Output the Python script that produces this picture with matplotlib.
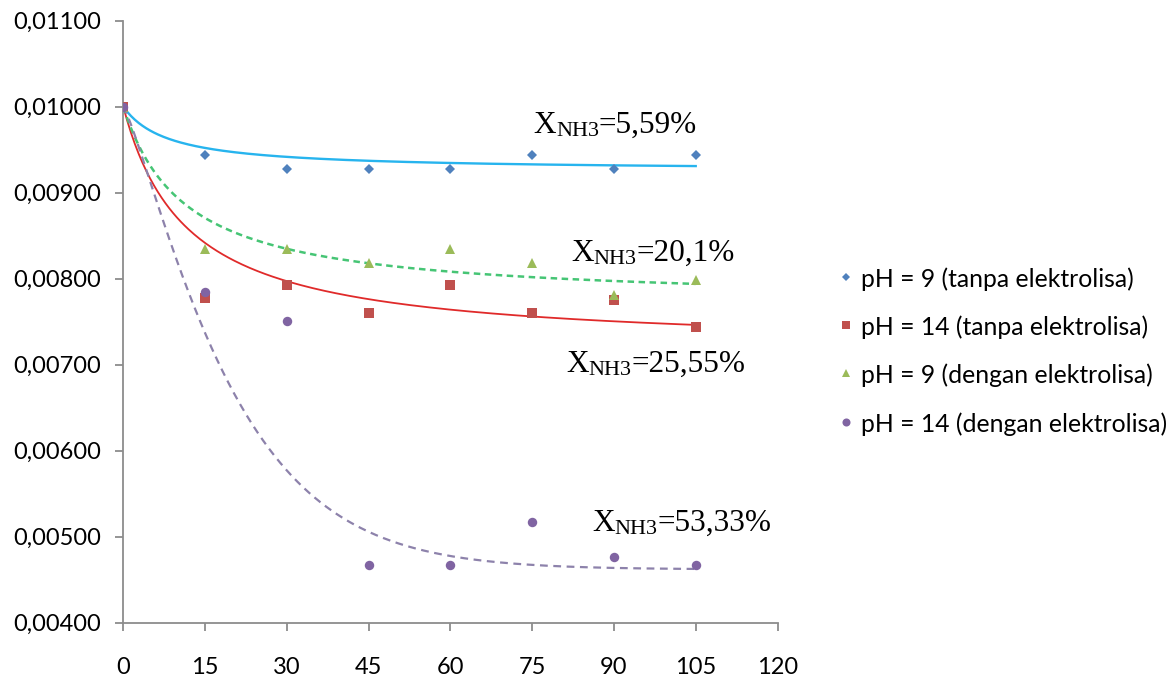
import numpy as np
import matplotlib
matplotlib.use("Agg")
import matplotlib.pyplot as plt
from matplotlib import transforms
from matplotlib.lines import Line2D

# ---------------- data ----------------
time_min = [0, 15, 30, 45, 60, 75, 90, 105]
ph9_tanpa = [0.01000, 0.00944, 0.00928, 0.00928, 0.00928, 0.00944, 0.00928, 0.00944]
ph14_tanpa = [0.01000, 0.00777, 0.00793, 0.00760, 0.00793, 0.00760, 0.00775, 0.00744]
ph9_dengan = [0.01000, 0.00835, 0.00835, 0.00818, 0.00835, 0.00818, 0.00781, 0.00799]
ph14_dengan = [0.01000, 0.00784, 0.00751, 0.00467, 0.00467, 0.00517, 0.00476, 0.00467]

labels = ["pH = 9 (tanpa elektrolisa)", "pH = 14 (tanpa elektrolisa)",
          "pH = 9 (dengan elektrolisa)", "pH = 14 (dengan elektrolisa)"]
conversions = ["5,59%", "20,1%", "25,55%", "53,33%"]
x_ticks = [0, 15, 30, 45, 60, 75, 90, 105, 120]
y_ticks = [0.004, 0.005, 0.006, 0.007, 0.008, 0.009, 0.010, 0.011]

# trendline parameters
# saturating trends: y = y0 - A*x/(K + x)
trend_A = [0.000745, 0.00282, 0.002286]
trend_K = [8.3, 11.7, 11.5]
# purple trend: y = c + (y0 - c)*exp(-(x/tau)^p)
purple_c, purple_tau, purple_p = 0.00462, 20.9, 1.2

# ---------------- figure ----------------
W, H = 1174, 677
fig = plt.figure(figsize=(W / 100, H / 100), dpi=100)
L, R, T, B = 123.3, 777.5, 20.7, 622.7
ax = fig.add_axes([L / W, 1 - B / H, (R - L) / W, (B - T) / H])

x = np.array(time_min, dtype=float)
series = [np.array(s) for s in (ph9_tanpa, ph14_tanpa, ph9_dengan, ph14_dengan)]
mcolors = ["#4F81BD", "#C0504D", "#9BBB59", "#8064A2"]
markers = ["D", "s", "^", "o"]
msizes = [5.0, 6.5, 7.2, 6.8]

xs = np.linspace(0, 105, 300)
trends = []
for s, A, K in zip(series[:3], trend_A, trend_K):
    trends.append(s[0] - A * xs / (K + xs))
y0p = series[3][0]
trends.append(purple_c + (y0p - purple_c) * np.exp(-(xs / purple_tau) ** purple_p))

ax.plot(xs, trends[0], color="#27B4EE", lw=1.7, zorder=2)
ax.plot(xs, trends[1], color="#E02A2A", lw=1.3, zorder=2)
ax.plot(xs, trends[2], color="#46C575", lw=1.8, ls=(0, (2.6, 1.8)), zorder=2)
ax.plot(xs, trends[3], color="#8D82AB", lw=1.6, ls=(0, (3.5, 2.5)), zorder=2)

for s, c, m, ms in zip(series, mcolors, markers, msizes):
    ax.plot(x, s, ls="none", marker=m, color=c, markersize=ms,
            markeredgewidth=0, zorder=3)

ax.set_xlim(0, 120)
ax.set_ylim(0.004, 0.011)
ax.set_xticks(x_ticks)
ax.set_yticks(y_ticks)
ax.set_xticklabels([str(v) for v in x_ticks])
ax.set_yticklabels([f"{v:.5f}".replace(".", ",") for v in y_ticks])

for sp in ["top", "right"]:
    ax.spines[sp].set_visible(False)
for sp in ["left", "bottom"]:
    ax.spines[sp].set_color("#8C8C8C")
    ax.spines[sp].set_linewidth(1.3)
ax.tick_params(axis="both", colors="#8C8C8C", width=1.3, length=6,
               direction="out", labelcolor="black", labelsize=17)
ax.tick_params(axis="x", pad=19)
ax.tick_params(axis="y", pad=10)
for lab in ax.get_xticklabels() + ax.get_yticklabels():
    lab.set_family("Lato")

# ---------------- annotations X_NH3 ----------------
fig.canvas.draw()
renderer = fig.canvas.get_renderer()
ann_pos = [(75.2, 0.009694), (82.1, 0.008206), (81.2, 0.006915), (86.0, 0.005066)]
serif = "Liberation Serif"
for (ax_x, ax_y), val in zip(ann_pos, conversions):
    t1 = ax.text(ax_x, ax_y, "X", fontsize=22.5, family=serif, va="baseline", ha="left")
    w1 = t1.get_window_extent(renderer).width
    tr2 = transforms.offset_copy(ax.transData, fig=fig, x=w1, y=-3, units="dots")
    t2 = ax.text(ax_x, ax_y, "NH3", fontsize=16, family=serif, va="baseline",
                 ha="left", transform=tr2)
    w2 = t2.get_window_extent(renderer).width
    tr3 = transforms.offset_copy(ax.transData, fig=fig, x=w1 + w2, y=0, units="dots")
    ax.text(ax_x, ax_y, "=" + val, fontsize=22.5, family=serif, va="baseline",
            ha="left", transform=tr3)

# ---------------- legend (manual) ----------------
rows_y = [277, 325, 373, 422]
leg_ms = [4.2, 5.6, 6.2, 5.8]
for yy, lab, c, m, ms in zip(rows_y, labels, mcolors, markers, leg_ms):
    fig.add_artist(Line2D([846 / W], [1 - yy / H], transform=fig.transFigure,
                          marker=m, color=c, markersize=ms, markeredgewidth=0, ls="none"))
    fig.text(861 / W, 1 - (yy + 2) / H, lab, fontsize=17.8, family="Lato",
             va="center", ha="left")

fig.savefig("out.png", dpi=100)
